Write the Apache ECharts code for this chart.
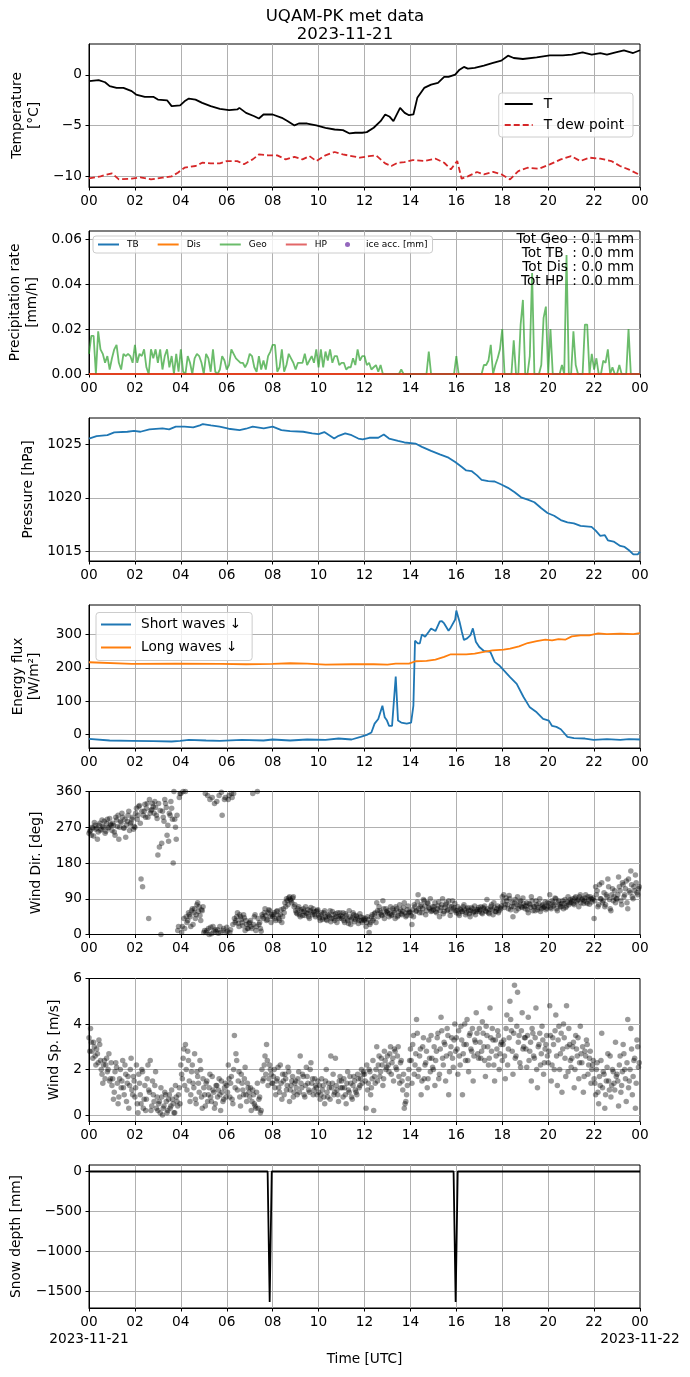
<!DOCTYPE html>
<html><head><meta charset="utf-8">
<script src="https://cdn.jsdelivr.net/npm/echarts@6/dist/echarts.min.js"></script>
<style>html,body{margin:0;padding:0;background:#fff}#c{width:690px;height:1377px}</style>
</head><body><div id="c"></div>
<script>
// ---------------- DATA (hours since 2023-11-21 00:00 UTC) ----------------
const xTickLabels = ['00','02','04','06','08','10','12','14','16','18','20','22','00'];
const startDate = '2023-11-21';
const endDate = '2023-11-22';

const tempH = [0,0.42,0.7,0.9,1.2,1.5,1.86,2.05,2.43,2.8,3.0,3.4,3.6,3.97,4.16,4.35,4.64,4.93,5.3,5.7,6.1,6.46,6.55,6.84,7.2,7.4,7.6,8.0,8.4,8.66,8.95,9.14,9.5,9.9,10.3,10.7,11.06,11.35,11.6,11.9,12.1,12.4,12.7,12.9,13.1,13.26,13.55,13.75,13.94,14.13,14.3,14.6,14.9,15.2,15.47,15.66,15.95,16.14,16.33,16.5,16.8,17.2,17.6,17.96,18.25,18.5,18.9,19.5,20.07,20.64,21.03,21.5,21.9,22.27,22.56,22.94,23.3,23.7,24];
const tempV = [-0.62,-0.52,-0.72,-1.1,-1.28,-1.28,-1.6,-1.93,-2.16,-2.16,-2.43,-2.5,-3.08,-3.0,-2.6,-2.33,-2.43,-2.75,-3.08,-3.34,-3.48,-3.4,-3.25,-3.74,-4.07,-4.3,-3.9,-3.9,-4.23,-4.56,-4.98,-4.79,-4.79,-4.98,-5.21,-5.38,-5.44,-5.77,-5.7,-5.7,-5.64,-5.21,-4.56,-3.9,-4.13,-4.56,-3.25,-3.74,-3.97,-3.9,-2.26,-1.28,-0.95,-0.79,-0.2,-0.2,0.03,0.52,0.79,0.62,0.69,0.92,1.18,1.41,1.9,1.67,1.57,1.74,1.93,1.93,2.0,2.23,2.0,2.16,2.0,2.23,2.43,2.16,2.43];

const dewH = [0,0.5,1.0,1.3,1.86,2.24,2.7,3.2,3.6,3.87,4.16,4.64,4.93,5.3,5.7,6.0,6.46,6.75,7.13,7.4,7.8,8.2,8.57,8.95,9.3,9.6,9.9,10.3,10.7,11.06,11.44,11.8,12.2,12.5,12.9,13.17,13.45,13.74,14.1,14.6,15.1,15.47,15.76,16.04,16.23,16.5,16.9,17.2,17.6,17.96,18.34,18.7,19.1,19.6,20.07,20.55,21.0,21.4,21.8,22.27,22.75,23.13,23.5,24];
const dewV = [-10.2,-10.0,-9.7,-10.3,-10.23,-10.1,-10.3,-10.13,-10.0,-9.64,-9.15,-8.98,-8.66,-8.72,-8.72,-8.5,-8.5,-8.8,-8.33,-7.84,-7.93,-7.93,-8.33,-8.07,-8.33,-8.0,-8.49,-7.93,-7.6,-7.84,-8.0,-8.16,-8.0,-7.93,-8.72,-8.98,-8.66,-8.59,-8.39,-8.49,-8.26,-8.66,-9.31,-8.49,-10.23,-10.0,-9.57,-9.8,-9.57,-9.8,-10.3,-9.48,-9.15,-9.25,-8.82,-8.33,-8.0,-8.49,-8.16,-8.26,-8.49,-8.98,-9.31,-9.87];

// Geonor precipitation rate, one value every 0.1 h (6 min), 0.0 .. 24.0 h
const geoStepH = 0.1;
const geoV = [
 .009,.017,.017,.000,.019,.011,.009,.005,.008,.002,
 .007,.011,.013,.005,.002,.009,.008,.009,.008,.005,
 .013,.005,.009,.008,.011,.003,.000,.011,.007,.011,
 .005,.011,.002,.008,.011,.003,.008,.000,.009,.001,
 .011,.001,.000,.008,.005,.000,.007,.009,.008,.005,
 .000,.009,.007,.001,.011,.001,.000,.002,.008,.006,
 .002,.004,.011,.009,.007,.006,.005,.005,.003,.005,
 .009,.008,.003,.001,.008,.002,.006,.002,.008,.010,
 .013,.013,.001,.003,.011,.001,.004,.009,.007,.005,
 .002,.005,.005,.005,.009,.004,.006,.008,.005,.011,
 .003,.011,.003,.010,.006,.011,.005,.008,.008,.004,
 .005,.005,.002,.003,.003,.007,.004,.011,.006,.008,
 .008,.004,.005,.002,.003,.004,.001,.004,.000,.000,
 0,0,0,0,0,0,.002,0,0,0,
 0,0,0,0,0,0,0,0,.010,0,
 0,0,0,0,0,0,0,0,0,0,
 .008,0,0,0,0,0,0,0,0,0,
 0,0,.004,.004,.006,.013,0,.004,.007,.011,
 .020,0,0,0,0,.015,0,0,.022,.033,
 0,0,.008,.045,0,0,0,.004,.025,.030,
 0,.020,0,0,0,0,.004,0,.053,0,
 0,.019,.004,0,0,0,.022,.022,0,.009,
 .002,.007,0,0,.006,.005,.011,0,.003,0,
 0,.004,0,0,0,.020,0,0,0,0,0
];
const tbH = [0,24], tbV = [0,0];
const disH = [0,24], disV = [0,0];
const hpH = [0,24], hpV = [0,0];
const totNames = ['Geo','TB ','Dis','HP '];
const totValues = ['0.1','0.0','0.0','0.0'];

const presH = [0,0.33,0.8,1.1,1.67,1.96,2.24,2.63,3.2,3.49,3.78,4.16,4.54,4.83,4.96,5.31,5.69,6.08,6.56,6.84,7.13,7.61,8.0,8.38,8.76,9.33,9.72,10.0,10.25,10.68,10.87,11.16,11.44,11.73,11.92,12.21,12.6,12.84,13.07,13.46,13.74,14.22,14.5,14.9,15.28,15.66,15.95,16.24,16.43,16.66,16.9,17.1,17.39,17.67,17.96,18.25,18.54,18.82,19.11,19.4,19.69,19.97,20.26,20.55,20.84,21.12,21.41,21.89,22.08,22.27,22.47,22.6,22.85,23.14,23.33,23.52,23.71,23.9,24];
const presV = [1025.53,1025.75,1025.84,1026.1,1026.16,1026.25,1026.16,1026.38,1026.47,1026.38,1026.63,1026.63,1026.56,1026.75,1026.88,1026.75,1026.63,1026.44,1026.31,1026.44,1026.63,1026.47,1026.63,1026.31,1026.22,1026.16,1026.0,1025.94,1026.13,1025.53,1025.78,1026.0,1025.84,1025.53,1025.44,1025.6,1025.6,1025.9,1025.53,1025.31,1025.16,1025.06,1024.75,1024.38,1024.06,1023.75,1023.34,1022.88,1022.56,1022.5,1022.1,1021.69,1021.56,1021.53,1021.25,1020.94,1020.53,1020.06,1019.84,1019.6,1019.06,1018.6,1018.34,1017.94,1017.72,1017.63,1017.4,1017.31,1016.94,1016.47,1016.53,1016.06,1015.94,1015.53,1015.44,1015.13,1014.75,1014.75,1015.0];

const swH = [0,0.9,1.86,2.8,3.6,3.97,4.35,5.1,5.7,6.65,7.6,8.0,8.76,9.5,10.3,10.87,11.44,11.83,12.1,12.3,12.44,12.6,12.78,12.88,12.98,13.07,13.2,13.36,13.46,13.6,13.84,14.03,14.13,14.2,14.32,14.41,14.5,14.64,14.8,14.9,15.09,15.28,15.37,15.47,15.66,15.76,15.95,16.0,16.14,16.24,16.33,16.47,16.62,16.72,16.85,17.0,17.2,17.48,17.67,17.86,18.06,18.34,18.63,18.92,19.2,19.5,19.78,20.03,20.17,20.36,20.55,20.84,21.12,21.6,21.98,22.56,23.14,23.52,24];
const swV = [-14,-19,-20,-21,-22,-20,-17,-19,-20,-17,-19,-16,-19,-16,-17,-13,-16,-8,-2,5,32,46,86,51,41,25,25,174,41,35,32,35,86,282,274,274,301,294,309,319,311,340,341,334,312,322,346,373,339,309,284,289,299,319,279,263,251,248,218,208,193,172,152,113,81,66,46,41,25,22,15,-8,-12,-13,-17,-15,-17,-15,-16];
const lwH = [0,1.86,3.78,5.7,6.84,8.0,8.76,9.5,10.3,11.44,12.4,13.0,13.36,13.94,14.22,14.7,15.09,15.47,15.76,16.04,16.43,16.8,17.2,17.58,18.06,18.34,18.73,19.11,19.5,19.88,20.17,20.45,20.74,21.03,21.41,21.79,22.18,22.56,23.14,23.71,24];
const lwV = [217,212,213,212,211,212,214,213,210,211,211,210,213,213,220,221,225,233,241,241,241,243,248,253,255,258,265,275,281,285,283,287,285,295,298,298,304,302,303,302,305];

// Wind: two interleaved 4-minute series (A on even 4-min marks, B offset by 2 min), 15 values per hour
const windStepMin = 4;
const windOffsetBMin = 2;
const windDirA = [
 255,262,270,248,275,268,258,280,265,272,285,260,290,270,278,
 262,275,250,288,300,270,282,295,268,245,285,310,278,290,265,
 270,318,300,325,140,120,310,295,330,40,305,315,322,335,300,
 200,220,0,310,285,330,250,235,300,318,180,290,240,10,345,
 355,20,40,360,30,55,45,60,25,65,50,80,70,35,60,
 5,355,10,15,340,2,20,330,8,12,350,5,300,15,345,
 18,340,5,355,25,40,35,55,20,45,30,50,10,25,15,
 30,20,355,45,10,360,25,15,50,40,65,35,55,60,30,
 45,55,35,60,40,50,30,65,80,90,75,95,85,92,70,
 60,52,70,45,58,65,48,55,62,40,68,50,57,45,60,
 48,35,55,42,60,38,50,45,32,58,40,52,30,45,55,
 40,55,30,48,35,60,25,42,50,38,45,28,52,35,42,
 35,20,45,5,30,50,40,55,80,45,60,50,85,40,65,
 55,45,70,50,60,40,65,48,75,52,58,80,45,62,55,
 55,25,45,70,60,100,55,75,65,85,50,80,68,90,60,
 62,80,55,72,45,68,90,58,75,60,85,48,70,65,78,
 55,70,48,62,58,75,50,65,60,45,68,55,72,58,62,
 58,70,52,65,60,88,55,62,75,50,68,58,72,60,65,
 95,100,75,85,65,90,70,45,80,60,95,72,85,68,78,
 65,80,55,75,95,60,70,85,62,78,58,72,68,82,66,
 72,100,65,80,75,90,60,85,70,78,65,88,72,95,80,
 80,90,75,95,85,70,100,88,78,92,82,95,76,90,88,
 40,120,110,75,90,130,85,70,100,140,88,60,115,95,80,
 90,145,110,75,125,100,135,65,110,160,95,120,150,105,115
];
const windDirB = [
 260,250,268,282,265,240,275,262,288,270,255,280,268,292,275,
 280,258,295,272,240,285,305,268,290,276,300,262,282,295,272,
 305,290,322,280,310,300,328,318,295,340,312,330,305,320,292,
 330,312,230,295,340,320,275,305,335,290,360,270,300,20,355,
 5,360,15,45,35,50,20,65,55,40,75,58,48,62,70,
 10,5,350,0,18,345,8,12,335,3,20,358,10,340,5,
 8,350,12,345,355,30,45,28,50,38,22,42,35,15,28,
 35,15,25,50,20,40,30,8,45,55,48,38,62,45,50,
 50,40,58,48,35,62,45,55,70,85,92,88,80,95,75,
 55,65,50,62,48,58,70,52,45,60,55,65,50,58,62,
 42,50,38,55,45,35,48,60,40,50,35,45,55,40,48,
 45,35,52,40,28,45,38,55,32,48,40,35,45,30,38,
 40,30,38,25,45,35,52,30,60,70,55,48,65,52,58,
 60,52,48,65,55,70,45,58,62,50,68,55,48,72,58,
 48,62,75,58,82,65,70,55,88,72,60,78,65,58,70,
 70,58,65,82,60,75,52,68,80,62,72,58,85,68,60,
 60,52,65,58,70,62,55,68,52,60,65,58,50,62,68,
 62,55,68,72,58,65,52,70,62,80,58,65,55,68,72,
 82,68,92,75,98,62,80,70,88,75,65,82,70,92,72,
 72,62,78,68,85,72,60,75,68,90,65,75,70,62,80,
 78,68,85,72,92,65,80,75,70,85,78,68,82,75,88,
 85,78,92,82,88,95,80,90,85,100,78,88,95,82,92,
 85,100,70,125,90,80,105,75,95,120,65,100,85,110,90,
 100,120,85,130,95,115,80,140,105,125,90,110,130,100,120
];
const windSpdA = [
 3.4,3.8,2.8,3.2,2.6,2.9,2.3,3.1,2.0,1.4,2.4,2.2,1.9,2.7,1.6,
 1.3,0.7,1.9,2.1,0.5,1.6,1.2,2.4,0.9,1.8,1.4,0.3,2.0,1.1,1.7,
 0.8,2.2,0.1,1.4,0.5,1.9,0.7,0.2,1.6,1.1,2.4,0.4,0.9,1.3,0.3,
 0.2,0.6,1.2,0.0,0.4,0.9,0.1,0.7,0.3,1.1,0.5,0.1,0.8,0.4,1.2,
 2.2,1.6,2.9,3.1,1.1,2.4,0.6,1.9,1.4,2.7,0.5,1.7,1.0,2.0,0.3,
 1.2,0.4,1.5,0.9,1.8,0.6,1.1,0.3,1.3,0.8,1.6,0.2,1.0,0.7,1.4,
 1.3,2.2,0.8,1.7,0.5,3.5,2.7,1.1,1.9,0.4,1.4,0.9,2.1,0.6,1.2,
 0.8,0.2,1.1,0.5,0.3,1.4,0.7,0.1,2.0,1.6,2.6,3.1,1.3,2.2,1.8,
 1.4,2.0,0.9,1.6,1.2,2.2,0.7,1.5,1.8,1.1,2.1,0.6,1.3,1.7,1.0,
 1.5,0.9,1.9,2.6,1.2,1.7,0.8,2.1,1.4,1.0,2.3,1.6,1.1,1.3,0.9,
 1.0,0.7,1.6,1.3,0.5,2.0,0.8,1.2,2.6,1.4,0.9,2.5,1.1,0.6,1.7,
 1.5,0.8,1.2,0.5,1.9,1.0,1.4,0.7,1.7,1.1,0.9,1.6,1.3,2.0,1.8,
 1.8,0.3,1.1,2.0,0.9,1.6,0.2,1.4,3.0,2.2,1.7,2.5,1.3,2.8,2.0,
 2.6,1.9,3.0,2.3,1.5,2.8,2.0,3.0,1.4,2.4,1.1,0.3,0.6,1.3,2.0,
 2.9,1.4,3.5,2.2,4.2,1.7,2.6,0.9,3.0,1.6,2.3,1.2,3.3,1.9,2.5,
 2.0,1.3,2.8,3.6,1.8,4.3,2.5,3.2,1.5,3.8,0.9,2.7,3.4,2.1,4.0,
 3.4,1.8,2.6,3.9,0.9,3.1,2.4,4.2,1.9,3.6,2.8,1.5,3.3,4.5,2.7,
 3.8,2.5,4.1,3.0,1.7,3.5,2.2,4.7,2.8,3.3,1.5,2.6,3.7,2.0,3.1,
 2.4,3.3,1.6,4.4,2.9,5.0,3.7,1.8,5.7,2.6,5.4,3.5,2.1,4.5,3.0,
 3.4,2.1,4.3,2.8,1.5,3.6,2.5,4.7,1.2,3.1,2.2,3.9,1.8,2.9,3.5,
 2.3,4.8,1.5,3.4,2.0,4.4,1.3,3.9,2.7,1.0,4.0,2.5,4.8,1.9,3.1,
 2.1,3.0,1.2,3.5,2.6,1.6,3.9,2.3,1.0,2.8,3.3,1.8,2.5,1.4,2.2,
 1.6,0.9,2.3,0.5,1.3,3.6,1.9,0.3,1.5,2.7,1.1,0.8,2.0,1.4,3.2,
 1.8,0.4,2.6,1.3,3.1,2.0,0.6,4.2,1.5,3.8,0.9,2.4,0.3,3.3,2.1
];
const windSpdB = [
 2.8,3.2,2.5,3.0,2.2,2.7,3.3,2.4,1.8,2.2,1.6,2.5,2.0,1.5,2.3,
 1.6,1.0,2.3,1.4,0.8,2.0,1.5,1.2,2.2,0.6,1.7,1.3,2.5,0.9,1.5,
 1.2,0.5,1.8,0.9,2.0,0.3,1.3,0.7,2.2,1.0,0.2,1.5,0.6,1.9,0.8,
 0.5,0.1,0.8,0.3,1.0,0.6,0.2,0.9,0.4,0.7,0.1,1.3,0.6,0.9,0.5,
 1.8,2.5,1.3,2.0,2.8,1.5,0.9,2.2,1.2,0.7,1.9,1.4,2.4,0.8,1.6,
 0.9,1.4,0.6,1.2,0.8,1.7,1.0,0.5,1.3,1.1,0.9,1.5,0.6,1.2,0.8,
 1.0,1.6,1.4,0.7,2.0,1.2,2.4,1.5,0.8,1.8,1.1,1.6,0.9,1.4,1.0,
 1.2,0.6,0.9,0.4,1.0,0.3,0.8,0.2,1.5,2.2,1.8,2.4,1.6,2.0,1.4,
 1.7,1.2,1.5,2.1,1.0,1.4,1.8,0.9,1.6,1.3,1.9,1.1,1.5,0.8,1.4,
 1.2,1.6,1.0,1.4,1.8,0.9,1.3,1.7,1.1,2.0,1.4,0.9,1.6,1.2,1.5,
 1.3,0.9,1.1,0.8,1.5,1.0,1.4,0.7,1.2,1.8,1.0,1.3,0.9,1.5,1.2,
 1.2,1.6,0.9,1.4,1.1,1.7,0.8,1.3,1.5,1.0,1.8,1.2,1.6,1.4,1.9,
 1.5,2.2,1.4,1.9,1.2,2.4,1.7,2.0,1.5,2.6,1.9,2.2,1.6,2.4,2.1,
 2.2,2.7,1.8,2.5,2.9,2.1,2.6,1.7,2.3,1.5,1.8,0.5,0.9,1.6,2.4,
 2.4,3.1,1.8,2.7,3.6,2.0,2.9,1.5,3.4,2.2,2.8,1.6,2.5,3.5,2.1,
 3.0,2.4,3.4,1.6,2.9,3.7,2.2,3.1,2.6,3.5,1.9,3.0,2.5,3.3,2.8,
 2.9,3.7,2.2,3.3,2.7,4.0,3.1,2.4,3.5,2.9,3.8,2.6,3.2,3.6,2.5,
 3.2,2.8,3.6,2.4,3.9,3.0,2.5,3.4,3.8,2.2,3.3,2.9,3.5,2.7,3.2,
 3.1,2.6,3.8,2.2,3.4,4.2,2.8,3.6,2.5,3.9,3.2,2.3,3.7,2.9,3.4,
 2.9,3.5,2.4,3.2,3.8,2.6,3.4,2.0,3.0,3.6,2.7,3.3,2.3,3.1,2.6,
 2.8,3.5,2.2,3.1,3.7,2.6,3.3,2.0,3.6,2.9,3.4,1.7,3.0,3.8,2.4,
 2.5,3.2,2.0,2.9,3.4,2.3,2.7,3.0,1.7,2.6,3.1,2.2,2.8,2.0,2.4,
 1.4,2.0,1.0,1.7,2.4,1.2,1.8,0.9,2.1,1.5,2.6,1.3,1.9,1.1,1.7,
 1.5,2.2,1.0,1.9,2.7,1.6,2.3,1.2,2.0,2.9,1.7,2.5,1.4,3.0,2.3
];

const snowH = [0,7.78,7.87,7.96,15.88,15.97,16.06,24];
const snowV = [0,0,-1635,0,0,-1635,0,0];

// ---------------- CHART ----------------
const FONT = 'DejaVu Sans';
const FS = 13.7;
const pairs = (h, v) => h.map((t, i) => [t, v[i]]);
const stepPairs = (v, step, off) => v.map((y, i) => [(off || 0) + i * step, y]);
const fmtNum = (v, d) => (v < 0 ? '\u2212' : '') + Math.abs(v).toFixed(d);

const panelTops = [44, 231, 418, 605, 791.5, 978.5, 1165];
const panelH = 143;
const plotLeft = 89, plotWidth = 551;

const yCfg = [
  {name: 'Temperature\n[°C]', min: -11.05, max: 3.05, step: 5, dec: 0, gap: 44},
  {name: 'Precipitation rate\n[mm/h]', min: 0, max: 0.0637, step: 0.02, dec: 2, gap: 46},
  {name: 'Pressure [hPa]', min: 1014.13, max: 1027.44, step: 5, dec: 0, gap: 52},
  {name: 'Energy flux\n[W/m²]', min: -41.6, max: 389.6, step: 100, dec: 0, gap: 46},
  {name: 'Wind Dir. [deg]', min: 0, max: 360, step: 90, dec: 0, gap: 40},
  {name: 'Wind Sp. [m/s]', min: -0.28, max: 6, step: 2, dec: 0, gap: 25},
  {name: 'Snow depth [mm]', min: -1711, max: 81.5, step: 500, dec: 0, gap: 64}
];

const grids = panelTops.map(t => ({
  left: plotLeft, width: plotWidth, top: t, height: panelH, show: true,
  borderColor: '#000', borderWidth: 1, backgroundColor: 'transparent',
  outerBoundsMode: 'none', containLabel: false
}));

const xAxes = panelTops.map((t, i) => ({
  type: 'value', gridIndex: i, min: 0, max: 24, interval: 2,
  axisLine: {show: true, onZero: false, lineStyle: {color: '#000', width: 1}},
  axisTick: {show: true, length: 3.5, lineStyle: {color: '#000', width: 1}},
  axisLabel: {
    color: '#000', fontFamily: FONT, fontSize: FS, margin: 7,
    showMinLabel: true, showMaxLabel: true,
    formatter: v => xTickLabels[Math.round(v / 2)]
  },
  splitLine: {show: true, showMinLine: false, showMaxLine: false, lineStyle: {color: '#b0b0b0', width: 1}}
}));

const yAxes = yCfg.map((c, i) => {
  const niceMin = Math.abs(c.min / c.step - Math.round(c.min / c.step)) < 1e-9;
  const niceMax = Math.abs(c.max / c.step - Math.round(c.max / c.step)) < 1e-9;
  return {
    type: 'value', gridIndex: i, min: c.min, max: c.max,
    minInterval: c.step, maxInterval: c.step, splitNumber: 3,
    name: c.name, nameLocation: 'middle', nameGap: c.gap, nameRotate: 90,
    nameTextStyle: {color: '#000', fontFamily: FONT, fontSize: FS, lineHeight: 16.5},
    axisLine: {show: true, lineStyle: {color: '#000', width: 1}},
    axisTick: {show: true, length: 3.5, lineStyle: {color: '#000', width: 1}},
    axisLabel: {
      color: '#000', fontFamily: FONT, fontSize: FS, margin: 7,
      showMinLabel: niceMin, showMaxLabel: niceMax,
      formatter: v => fmtNum(v, c.dec)
    },
    splitLine: {show: true, showMinLine: false, showMaxLine: false, lineStyle: {color: '#b0b0b0', width: 1}}
  };
});

const lineS = (name, idx, data, color, extra) => Object.assign({
  name, type: 'line', xAxisIndex: idx, yAxisIndex: idx, data,
  symbol: 'none', showSymbol: false, animation: false,
  lineStyle: {color, width: 1.8}, itemStyle: {color}
}, extra || {});

const dotStyle = {color: 'rgba(0,0,0,0.5)'};
const series = [
  lineS('T', 0, pairs(tempH, tempV), '#000'),
  lineS('T dew point', 0, pairs(dewH, dewV), '#d62728', {lineStyle: {color: '#d62728', width: 1.8, type: [6, 3]}}),
  lineS('TB', 1, pairs(tbH, tbV), '#1f77b4'),
  lineS('Dis', 1, pairs(disH, disV), '#ff7f0e'),
  lineS('Geo', 1, stepPairs(geoV, geoStepH), 'rgba(44,160,44,0.7)'),
  lineS('HP', 1, pairs(hpH, hpV), 'rgba(214,39,40,0.7)'),
  {name: 'ice acc. [mm]', type: 'scatter', xAxisIndex: 1, yAxisIndex: 1, data: [], itemStyle: {color: '#9467bd'}},
  lineS('Pressure', 2, pairs(presH, presV), '#1f77b4'),
  lineS('Short waves \u2193', 3, pairs(swH, swV), '#1f77b4'),
  lineS('Long waves \u2193', 3, pairs(lwH, lwV), '#ff7f0e'),
  {name: 'Wind Dir', type: 'scatter', xAxisIndex: 4, yAxisIndex: 4, animation: false, symbolSize: 5.5, itemStyle: dotStyle,
   data: stepPairs(windDirA, windStepMin / 60).concat(stepPairs(windDirB, windStepMin / 60, windOffsetBMin / 60))},
  {name: 'Wind Sp', type: 'scatter', xAxisIndex: 5, yAxisIndex: 5, animation: false, symbolSize: 5.5, itemStyle: dotStyle,
   data: stepPairs(windSpdA, windStepMin / 60).concat(stepPairs(windSpdB, windStepMin / 60, windOffsetBMin / 60))},
  lineS('Snow depth', 6, pairs(snowH, snowV), '#000')
];

const legTxt = {color: '#000', fontFamily: FONT, fontSize: FS};
const hiddenSym = {opacity: 0};
const legends = [
  {data: ['T', 'T dew point'], orient: 'vertical', right: 57, top: 93,
   itemWidth: 28, itemHeight: 14, itemGap: 7, padding: [4, 9, 5, 5], itemStyle: hiddenSym,
   textStyle: Object.assign({padding: [0, 0, 0, 6]}, legTxt),
   backgroundColor: 'rgba(255,255,255,0.8)', borderColor: '#cccccc', borderWidth: 1, borderRadius: 3},
  {data: ['TB', 'Dis', 'Geo', 'HP', {name: 'ice acc. [mm]', icon: 'circle', itemStyle: {opacity: 1}}],
   orient: 'horizontal', left: 93, top: 236, itemStyle: hiddenSym,
   itemWidth: 21, itemHeight: 5, itemGap: 18, padding: [4, 5, 4, 4],
   textStyle: {color: '#000', fontFamily: FONT, fontSize: 9, padding: [0, 0, 0, 3]},
   backgroundColor: 'rgba(255,255,255,0.8)', borderColor: '#cccccc', borderWidth: 1, borderRadius: 3},
  {data: ['Short waves \u2193', 'Long waves \u2193'], orient: 'vertical', left: 96, top: 612.5,
   itemWidth: 30, itemHeight: 14, itemGap: 9, padding: [5, 11, 6, 4], itemStyle: hiddenSym,
   textStyle: Object.assign({padding: [0, 0, 0, 5]}, legTxt),
   backgroundColor: 'rgba(255,255,255,0.8)', borderColor: '#cccccc', borderWidth: 1, borderRadius: 3}
];

const totText = totNames.map((n, i) => 'Tot ' + n + ' : ' + totValues[i] + ' mm').join('\n');
const txt = (text, x, y, size, align, extra) => Object.assign({type: 'text', x, y, z: 100,
  style: {text, fill: '#000', font: size + 'px "DejaVu Sans"', align}}, extra || {});

const graphic = [
  {type: 'text', x: 345, y: 8, z: 100,
   style: {text: 'UQAM-PK met data\n' + startDate, fill: '#000', font: '16.6px "DejaVu Sans"', align: 'center', lineHeight: 17.5}},
  {type: 'text', x: 634, y: 233, z: 100,
   style: {text: totText, fill: '#000', font: FS + 'px "DejaVu Sans"', align: 'right', lineHeight: 13.7}},
  txt(startDate, plotLeft, 1332, FS, 'center'),
  txt(endDate, plotLeft + plotWidth, 1332, FS, 'center'),
  txt('Time [UTC]', 364.5, 1352, FS, 'center')
];

const chart = echarts.init(document.getElementById('c'), null, {renderer: 'canvas', width: 690, height: 1377});
chart.setOption({
  animation: false,
  backgroundColor: '#fff',
  textStyle: {fontFamily: FONT},
  grid: grids, xAxis: xAxes, yAxis: yAxes,
  legend: legends, series, graphic
});
</script></body></html>
